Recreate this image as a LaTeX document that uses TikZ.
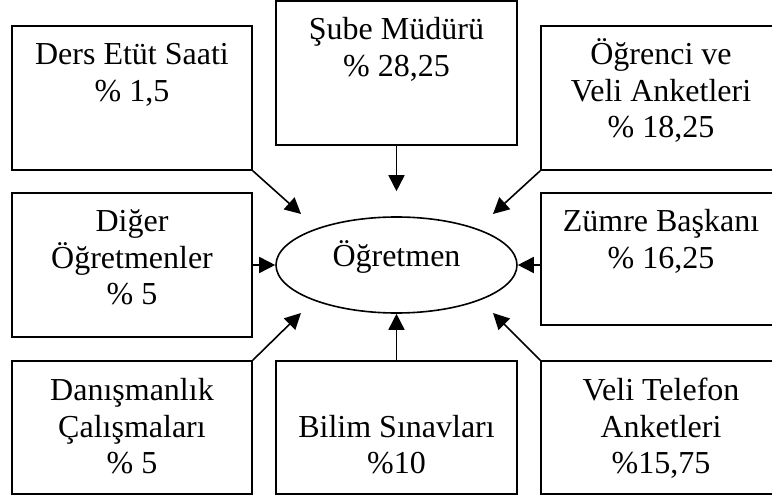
\documentclass[tikz,border=0pt]{standalone}
\usepackage{fontspec}
\setmainfont{Liberation Serif}
\usetikzlibrary{arrows.meta,shapes.geometric}
% centred lines stacked at a fixed pitch; the baseline is that of the first line
\newcommand\boxlines[1]{\vtop{\baselineskip=36.5pt\lineskiplimit=-\maxdimen
  \halign{\hfil##\hfil\cr#1\crcr}}}
\begin{document}
\begin{tikzpicture}[x=1pt,y=-1pt,
  box/.style={draw, line width=1.6pt, rectangle, inner sep=0pt, minimum width=240pt},
  lbl/.style={anchor=base, inner sep=0pt, font=\fontsize{32}{36.5}\selectfont},
  feed/.style={line width=1.6pt, -{Triangle[length=16pt,width=16pt]}}]
\useasboundingbox (0,0) rectangle (772,497);
\clip (0,0) rectangle (772,497);

% source boxes
\node[box, minimum height=144pt] (ders)    at (132,98)    {};
\node[box, minimum width=241pt, minimum height=144pt] (sube) at (396.5,73) {};
\node[box, minimum height=144pt] (ogrenci) at (661,98)    {};
\node[box, minimum height=144pt] (diger)   at (132,265)   {};
\node[box, minimum height=132pt] (zumre)   at (661,259)   {};
\node[box, minimum height=133pt] (danis)   at (132,427.5) {};
\node[box, minimum width=241pt, minimum height=133pt] (bilim) at (396.5,427.5) {};
\node[box, minimum height=133pt] (veli)    at (661,427.5) {};

% box texts
\node[lbl] (dersT)    at (132,65)    {\boxlines{Ders Etüt Saati\cr \% 1,5}};
\node[lbl] (subeT)    at (396.5,40)  {\boxlines{Şube Müdürü\cr \% 28,25}};
\node[lbl] (ogrenciT) at (661,65)    {\boxlines{Öğrenci ve\cr Veli Anketleri\cr \% 18,25}};
\node[lbl] (digerT)   at (132,232)   {\boxlines{Diğer\cr Öğretmenler\cr \% 5}};
\node[lbl] (zumreT)   at (661,232)   {\boxlines{Zümre Başkanı\cr \% 16,25}};
\node[lbl] (danisT)   at (132,401)   {\boxlines{Danışmanlık\cr Çalışmaları\cr \% 5}};
\node[lbl] (bilimT)   at (396.5,437) {\boxlines{Bilim Sınavları\cr \%10}};
\node[lbl] (veliT)    at (661,401)   {\boxlines{Veli Telefon\cr Anketleri\cr \%15,75}};

% central ellipse
\node[draw, ellipse, line width=1.6pt, inner sep=0pt, minimum width=241pt,
      minimum height=96pt, text height=14pt, text depth=10pt,
      font=\fontsize{32}{36.5}\selectfont] (ogretmen) at (396.5,265) {Öğretmen};

% free arrow ends of the diagonal links
\coordinate (tipNW) at (301,214);
\coordinate (tipNE) at (493,214);
\coordinate (tipSW) at (301,313);
\coordinate (tipSE) at (493,313);

% links
\draw[feed] (ders.south east) -- (tipNW);
\draw[feed, shorten >=25pt] (sube.south) -- (ogretmen.north);
\draw[feed] (ogrenci.south west) -- (tipNE);
\draw[feed] (diger.east) -- (ogretmen.west);
\draw[feed] (zumre.west |- ogretmen.east) -- (ogretmen.east);
\draw[feed] (danis.north east) -- (tipSW);
\draw[feed] (bilim.north) -- (ogretmen.south);
\draw[feed] (veli.north west) -- (tipSE);
\end{tikzpicture}
\end{document}
